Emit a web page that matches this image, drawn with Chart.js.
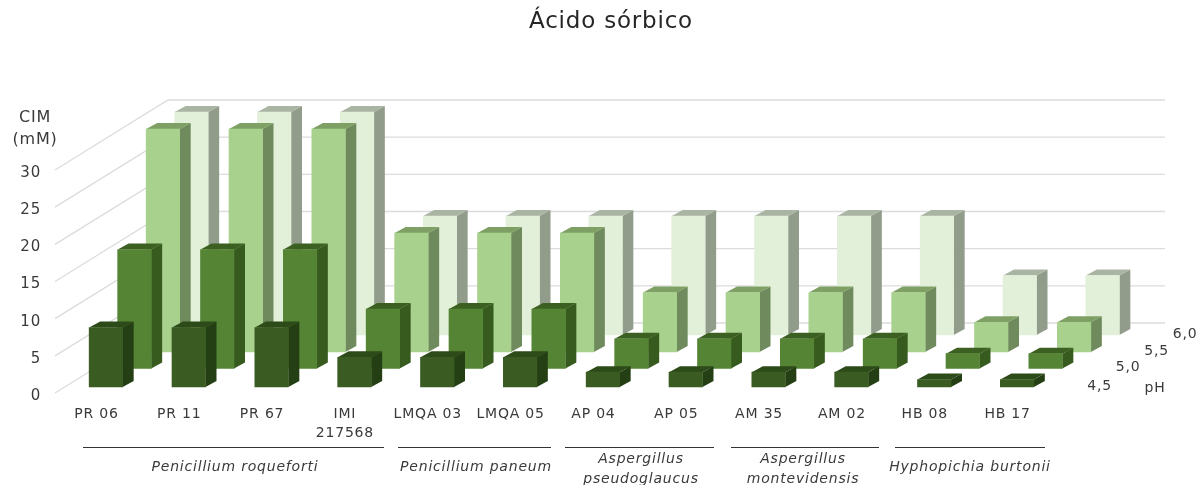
<!DOCTYPE html>
<html>
<head>
<meta charset="utf-8">
<title>Ácido sórbico</title>
<script src="https://cdn.jsdelivr.net/npm/chart.js@4/dist/chart.umd.min.js"></script>
<style>
  html, body { margin: 0; background: #fff; }
  canvas { display: block; }
</style>
</head>
<body>
<canvas id="cim-chart" width="1204" height="485"></canvas>
<script>
const strains = ["PR 06", "PR 11", "PR 67", ["IMI", "217568"], "LMQA 03", "LMQA 05",
                 "AP 04", "AP 05", "AM 35", "AM 02", "HB 08", "HB 17"];
const yTicks = [0, 5, 10, 15, 20, 25, 30];
const phLevels = ["4,5", "5,0", "5,5", "6,0"];

const cimPh45 = [8, 8, 8, 4, 4, 4, 2, 2, 2, 2, 1, 1];
const cimPh50 = [16, 16, 16, 8, 8, 8, 4, 4, 4, 4, 2, 2];
const cimPh55 = [30, 30, 30, 16, 16, 16, 8, 8, 8, 8, 4, 4];
const cimPh60 = [30, 30, 30, 16, 16, 16, 16, 16, 16, 16, 8, 8];

const species = [
  { name: ["Penicillium roqueforti"], from: 83, to: 384, center: 235 },
  { name: ["Penicillium paneum"], from: 398, to: 551, center: 476 },
  { name: ["Aspergillus", "pseudoglaucus"], from: 565, to: 714, center: 641 },
  { name: ["Aspergillus", "montevidensis"], from: 731, to: 879, center: 803 },
  { name: ["Hyphopichia burtonii"], from: 895, to: 1045, center: 970 }
];

// fake 3d: each pH row sits further back on the floor
const rowShift = [[9.5, -6], [38, -24.5], [66.5, -41], [95, -58]];
const wallDepth = [113, -70];
const barDepth = [11, -6];

const rowColors = [
  { front: "#3a5c22", side: "#253f15", top: "#2d4a19" },
  { front: "#558435", side: "#375a1f", top: "#3c5f22" },
  { front: "#a9d18e", side: "#6f8a5d", top: "#7fa065" },
  { front: "#e2f0d9", side: "#919c8b", top: "#a9b5a2" }
];

const textColor = "#3a3a3a";
const textFont = '"DejaVu Sans", sans-serif';

function poly(ctx, pts, color) {
  ctx.fillStyle = color;
  ctx.beginPath();
  pts.forEach((p, i) => i ? ctx.lineTo(p[0], p[1]) : ctx.moveTo(p[0], p[1]));
  ctx.closePath();
  ctx.fill();
}

const threeD = {
  id: "threeD",
  beforeLayout(chart) {
    // all the text is set slightly wide
    chart.ctx.letterSpacing = "0.8px";
  },
  afterLayout(chart) {
    // title is centred a bit right of the page middle
    chart.titleBlock.left = 18;
    chart.titleBlock.right = 1204;
  },
  beforeDatasetsDraw(chart) {
    const { ctx, scales: { x, y } } = chart;
    ctx.save();
    ctx.strokeStyle = "#dcdcdc";
    ctx.lineWidth = 1.3;
    yTicks.forEach(v => {
      const py = y.getPixelForValue(v);
      ctx.beginPath();
      ctx.moveTo(x.left, py);
      ctx.lineTo(x.left + wallDepth[0], py + wallDepth[1]);
      ctx.lineTo(x.right + wallDepth[0] + 3, py + wallDepth[1]);
      ctx.stroke();
    });
    ctx.restore();
  },
  beforeDatasetDraw(chart, args) {
    const { ctx } = chart;
    const shift = rowShift[args.index];
    const colors = rowColors[args.index];
    const [dx, dy] = barDepth;
    ctx.save();
    ctx.translate(shift[0], shift[1]);
    args.meta.data.forEach(bar => {
      const l = bar.x - bar.width / 2, r = bar.x + bar.width / 2;
      poly(ctx, [[r, bar.y], [r + dx, bar.y + dy], [r + dx, bar.base + dy], [r, bar.base]], colors.side);
      poly(ctx, [[l, bar.y], [l + dx, bar.y + dy], [r + dx, bar.y + dy], [r, bar.y]], colors.top);
    });
  },
  afterDatasetDraw(chart) {
    chart.ctx.restore();
  },
  afterDraw(chart) {
    const { ctx, scales: { x, y } } = chart;
    ctx.save();
    ctx.fillStyle = textColor;
    ctx.textAlign = "center";
    ctx.textBaseline = "middle";

    ctx.font = "16px " + textFont;
    ctx.fillText("CIM", 35, 118);
    ctx.fillText("(mM)", 35, 140);

    // pH labels follow the rows along the right edge
    ctx.font = "14px " + textFont;
    phLevels.forEach((ph, i) => {
      ctx.fillText(ph, x.right + 41 + rowShift[i][0], y.bottom + rowShift[i][1] - 1);
    });
    ctx.fillText("pH", 1155, 388);

    // species brackets under the strain names
    ctx.strokeStyle = "#333";
    ctx.lineWidth = 1;
    ctx.font = "italic 14px " + textFont;
    species.forEach(s => {
      ctx.beginPath();
      ctx.moveTo(s.from, 447.5);
      ctx.lineTo(s.to, 447.5);
      ctx.stroke();
      if (s.name.length === 1) {
        ctx.fillText(s.name[0], s.center, 467);
      } else {
        ctx.fillText(s.name[0], s.center, 459);
        ctx.fillText(s.name[1], s.center, 479);
      }
    });
    ctx.restore();
  }
};

function rowDataset(label, data, i) {
  return { label, data, backgroundColor: rowColors[i].front, clip: false };
}

new Chart("cim-chart", {
  type: "bar",
  data: {
    labels: strains,
    datasets: [
      rowDataset("4,5", cimPh45, 0),
      rowDataset("5,0", cimPh50, 1),
      rowDataset("5,5", cimPh55, 2),
      rowDataset("6,0", cimPh60, 3)
    ]
  },
  options: {
    responsive: false,
    animation: false,
    layout: { padding: { left: 0, right: 155, top: 0, bottom: 0 } },
    datasets: { bar: { grouped: false, barThickness: 33.5 } },
    plugins: {
      legend: { display: false },
      tooltip: { enabled: false },
      title: {
        display: true,
        text: "Ácido sórbico",
        color: "#262626",
        font: { family: textFont, size: 23, weight: "normal" },
        padding: { top: 8, bottom: 134.4 }
      }
    },
    scales: {
      x: {
        grid: { display: false, drawTicks: false },
        border: { display: false },
        afterFit(scale) { scale.height = 92; },
        ticks: {
          autoSkip: false,
          maxRotation: 0,
          padding: 11.5,
          color: textColor,
          font: { family: textFont, size: 14, lineHeight: 1.36 }
        }
      },
      y: {
        min: 0,
        max: 30,
        grid: { display: false, drawTicks: false },
        border: { display: false },
        afterFit(scale) { scale.width = 55; },
        afterBuildTicks(scale) { scale.ticks = yTicks.map(value => ({ value })); },
        ticks: {
          padding: 14,
          labelOffset: 3,
          color: textColor,
          font: { family: textFont, size: 15 }
        }
      }
    }
  },
  plugins: [threeD]
});
</script>
</body>
</html>
